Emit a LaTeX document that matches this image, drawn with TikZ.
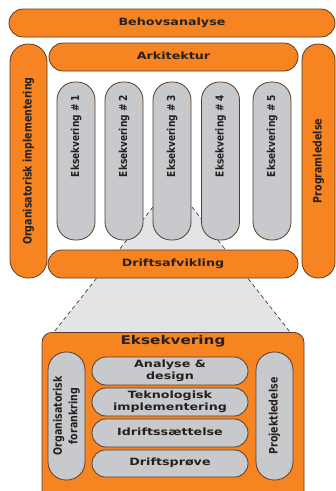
\documentclass[tikz,border=0pt]{standalone}
\usepackage{fontspec}
\usepackage{graphicx}
\newfontfamily\hfont{DejaVu Sans Bold}[FakeStretch=1.27]
\newfontfamily\vfont{DejaVu Sans Bold}
\definecolor{orangec}{RGB}{246,132,32}
\definecolor{greyc}{RGB}{200,201,205}
\definecolor{funnelc}{RGB}{226,228,230}
\definecolor{edgec}{RGB}{88,60,38}
\definecolor{textc}{RGB}{38,32,30}
\newcommand{\vtext}[2][9.3]{\rotatebox{90}{\scalebox{1}[1.22]{\fontsize{#1}{12.8}\vfont\begin{tabular}{@{}c@{}}#2\end{tabular}}}}
\newcommand{\htext}[2][10]{{\fontsize{#1}{12}\hfont\begin{tabular}{@{}c@{}}#2\end{tabular}}}
\begin{document}
\begin{tikzpicture}[x=1pt,y=-1pt,
  shapebase/.style={draw=edgec, line width=0.8pt, inner sep=0pt, text=textc},
  obar/.style={shapebase, fill=orangec},
  gbar/.style={shapebase, fill=greyc},
  label text/.style={text=textc, inner sep=0pt},
  funnel/.style={fill=funnelc},
  funneledge/.style={draw=black!75, dashed, line width=0.7pt, dash pattern=on 4pt off 3pt}]
\clip (0,0) rectangle (336,491);
\fill[white] (0,0) rectangle (336,491);
% funnel
\coordinate (f1) at (153,207);
\coordinate (f2) at (192,207);
\coordinate (f3) at (290,332);
\coordinate (f4) at (54,332);
\fill[funnel] (f1) -- (f2) -- (f3) -- (f4) -- cycle;
\draw[funneledge] (f1) -- (f4);
\draw[funneledge] (f2) -- (f3);
% top level
\node[obar, minimum width=326pt, minimum height=28pt, rounded corners=14pt] (beh) at (172,23) {\htext{Behovsanalyse}};
\node[obar, minimum width=249pt, minimum height=28pt, rounded corners=14pt] (ark) at (173.5,57) {\htext{Arkitektur}};
\node[obar, minimum width=37pt, minimum height=234pt, rounded corners=18pt] (orgimp) at (28.5,161) {\vtext[9.5]{Organisatorisk implementering}};
\node[obar, minimum width=33pt, minimum height=234pt, rounded corners=16pt] (prog) at (318.5,161) {\vtext[9.5]{Programledelse}};
\foreach \i/\x in {1/76,2/124,3/172,4/220.5,5/272}{
  \node[gbar, minimum width=38pt, minimum height=158pt, rounded corners=18pt] (eks\i) at (\x,161) {};
  \node[label text] (eks\i t) at (\x,136) {\vtext[9]{Eksekvering \# \i}};
}
\node[obar, minimum width=250pt, minimum height=28pt, rounded corners=14pt] (drift) at (173,264) {\htext{Driftsafvikling}};
% detail box
\node[obar, minimum width=262pt, minimum height=170pt, rounded corners=10pt, anchor=north] (box) at (173,332) {};
\node[label text] (boxtitle) at (173,342) {\htext[12]{Eksekvering}};
\node[gbar, minimum width=37pt, minimum height=128pt, rounded corners=18pt] (orgfor) at (66.5,416) {\vtext[9.5]{Organisatorisk\\forankring}};
\node[gbar, minimum width=37pt, minimum height=128pt, rounded corners=18pt] (projl) at (274.5,416) {\vtext[9.5]{Projektledelse}};
\node[gbar, minimum width=156pt, minimum height=28pt, rounded corners=14pt] (ana) at (170,371) {\htext{Analyse \&\\design}};
\node[gbar, minimum width=156pt, minimum height=28pt, rounded corners=14pt] (tek) at (170,402) {\htext{Teknologisk\\implementering}};
\node[gbar, minimum width=156pt, minimum height=28pt, rounded corners=14pt] (idr) at (170,433) {\htext{Idriftss\ae ttelse}};
\node[gbar, minimum width=156pt, minimum height=27pt, rounded corners=13.5pt] (drp) at (170,463.5) {\htext{Driftspr\o ve}};
\end{tikzpicture}
\end{document}
